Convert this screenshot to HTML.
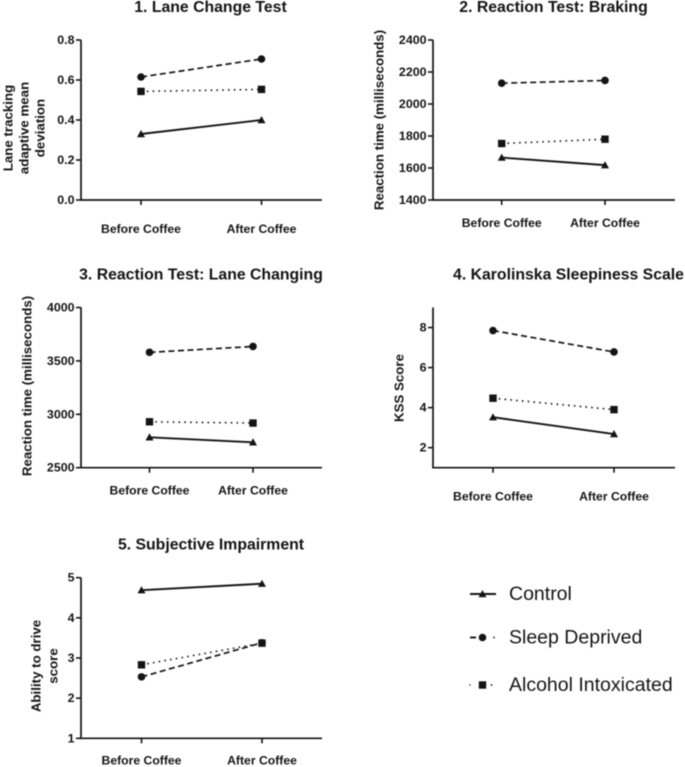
<!DOCTYPE html>
<html lang="en">
<head>
<meta charset="utf-8">
<title>Coffee study panels</title>
<style>
html,body{margin:0;padding:0;background:#fff;width:685px;height:767px;overflow:hidden}
svg{display:block;filter:blur(0.55px)}
text{font-family:"Liberation Sans",Arial,sans-serif;fill:#141414}
</style>
</head>
<body>
<svg id="chart" width="685" height="767" viewBox="0 0 685 767" xmlns="http://www.w3.org/2000/svg"></svg>
<script>
const categories = ['Before Coffee', 'After Coffee'];
const seriesNames = ['Control', 'Sleep Deprived', 'Alcohol Intoxicated'];

const laneControl = [0.33, 0.40];
const laneSleep = [0.615, 0.705];
const laneAlcohol = [0.543, 0.553];
const laneTicks = [0, 0.2, 0.4, 0.6, 0.8];
const laneTickLabels = ['0.0', '0.2', '0.4', '0.6', '0.8'];

const brakingControl = [1665, 1618];
const brakingSleep = [2130, 2147];
const brakingAlcohol = [1753, 1780];
const brakingTicks = [1400, 1600, 1800, 2000, 2200, 2400];
const brakingTickLabels = ['1400', '1600', '1800', '2000', '2200', '2400'];

const changingControl = [2785, 2738];
const changingSleep = [3580, 3635];
const changingAlcohol = [2930, 2918];
const changingTicks = [2500, 3000, 3500, 4000];
const changingTickLabels = ['2500', '3000', '3500', '4000'];

const kssControl = [3.52, 2.68];
const kssSleep = [7.85, 6.78];
const kssAlcohol = [4.47, 3.9];
const kssTicks = [2, 4, 6, 8];
const kssTickLabels = ['2', '4', '6', '8'];

const impairControl = [4.69, 4.85];
const impairSleep = [2.53, 3.38];
const impairAlcohol = [2.83, 3.37];
const impairTicks = [1, 2, 3, 4, 5];
const impairTickLabels = ['1', '2', '3', '4', '5'];

const NS = 'http://www.w3.org/2000/svg';
const root = document.getElementById('chart');
const INK = '#141414';

function make(parent, tag, attrs) {
  const el = document.createElementNS(NS, tag);
  for (const k in attrs) el.setAttribute(k, attrs[k]);
  parent.appendChild(el);
  return el;
}

function label(parent, str, x, y, size, weight, anchor, rotate) {
  const t = make(parent, 'text', {
    x: x, y: y, 'font-size': size, 'font-weight': weight,
    'text-anchor': anchor, 'dominant-baseline': 'central'
  });
  if (rotate) t.setAttribute('transform', 'rotate(-90 ' + x + ' ' + y + ')');
  t.textContent = str;
  return t;
}

function marker(parent, kind, x, y) {
  if (kind === 0) {
    return make(parent, 'polygon', {
      points: (x - 4) + ',' + (y + 3.2) + ' ' + (x + 4) + ',' + (y + 3.2) + ' ' + x + ',' + (y - 4),
      fill: INK
    });
  }
  if (kind === 1) {
    return make(parent, 'circle', { cx: x, cy: y, r: 3.8, fill: INK });
  }
  return make(parent, 'rect', { x: x - 3.7, y: y - 3.7, width: 7.4, height: 7.4, fill: INK });
}

const lineStyles = [
  { dash: 'none', width: 1.9 },
  { dash: '6 3.5', width: 1.7 },
  { dash: '1.6 4.2', width: 1.6 }
];

function drawPanel(p) {
  const g = make(root, 'g', {});
  
  

  const sy = v => p.bottom - (v - p.min) / (p.max - p.min) * (p.bottom - p.top);
  const sx = i => p.cx0 + i * (p.cx1 - p.cx0);

  const title = label(g, p.title, p.titleX, p.titleY, 15.8, 'bold', 'middle');
  
  

  p.yTitle.forEach(function (line, i) {
    const yt = label(g, line, p.yTitleX[i], p.yTitleY, 13.3, 'bold', 'middle', true);
    
    
  });

  const yAxis = make(g, 'line', { x1: p.left, x2: p.left, y1: p.top, y2: p.bottom + 0.8, stroke: INK, 'stroke-width': 1.7 });
  
  

  const xAxis = make(g, 'line', { x1: p.left, x2: p.right, y1: p.bottom, y2: p.bottom, stroke: INK, 'stroke-width': 1.7 });
  
  

  p.ticks.forEach(function (v, i) {
    const y = sy(v);
    const tick = make(g, 'line', { x1: p.left - 5, x2: p.left, y1: y, y2: y, stroke: INK, 'stroke-width': 1.6 });
    
    
    const tl = label(g, p.tickLabels[i], p.left - 6.5, y, 12.4, 'bold', 'end');
    
    
  });

  categories.forEach(function (c, i) {
    const x = sx(i);
    const tick = make(g, 'line', { x1: x, x2: x, y1: p.bottom, y2: p.bottom + 5, stroke: INK, 'stroke-width': 1.6 });
    
    
    const cl = label(g, c, x, p.catY, 12.2, 'bold', 'middle');
    
    
  });

  p.series.forEach(function (vals, s) {
    const sg = make(g, 'g', {});
    
    
    const st = lineStyles[s];
    const ln = make(sg, 'line', {
      x1: sx(0), y1: sy(vals[0]), x2: sx(1), y2: sy(vals[1]),
      stroke: INK, 'stroke-width': st.width
    });
    if (st.dash !== 'none') ln.setAttribute('stroke-dasharray', st.dash);
    vals.forEach(function (v, i) {
      marker(sg, s, sx(i), sy(v));
    });
  });
}

drawPanel({
  name: 'panel-lane-change-test', title: '1. Lane Change Test', titleX: 210.5, titleY: 7.5,
  yTitle: ['Lane tracking', 'adaptive mean', 'deviation'], yTitleX: [8, 24, 40], yTitleY: 128,
  left: 81, right: 322, top: 40, bottom: 200, cx0: 141, cx1: 261.5, catY: 229,
  min: 0, max: 0.8, ticks: laneTicks, tickLabels: laneTickLabels,
  series: [laneControl, laneSleep, laneAlcohol]
});
drawPanel({
  name: 'panel-reaction-test-braking', title: '2. Reaction Test: Braking', titleX: 553.5, titleY: 7.5,
  yTitle: ['Reaction time (milliseconds)'], yTitleX: [379], yTitleY: 120,
  left: 433, right: 675, top: 40, bottom: 200, cx0: 501.7, cx1: 605, catY: 223,
  min: 1400, max: 2400, ticks: brakingTicks, tickLabels: brakingTickLabels,
  series: [brakingControl, brakingSleep, brakingAlcohol]
});
drawPanel({
  name: 'panel-reaction-test-lane-changing', title: '3. Reaction Test: Lane Changing', titleX: 201, titleY: 275,
  yTitle: ['Reaction time (milliseconds)'], yTitleX: [27], yTitleY: 386,
  left: 81, right: 322, top: 307.5, bottom: 467.7, cx0: 149.5, cx1: 253, catY: 490.5,
  min: 2500, max: 4000, ticks: changingTicks, tickLabels: changingTickLabels,
  series: [changingControl, changingSleep, changingAlcohol]
});
drawPanel({
  name: 'panel-karolinska-sleepiness-scale', title: '4. Karolinska Sleepiness Scale', titleX: 568.5, titleY: 275,
  yTitle: ['KSS Score'], yTitleX: [399], yTitleY: 388,
  left: 433, right: 675, top: 307.5, bottom: 467.7, cx0: 493, cx1: 614, catY: 496.5,
  min: 1, max: 9, ticks: kssTicks, tickLabels: kssTickLabels,
  series: [kssControl, kssSleep, kssAlcohol]
});
drawPanel({
  name: 'panel-subjective-impairment', title: '5. Subjective Impairment', titleX: 211, titleY: 545,
  yTitle: ['Ability to drive', 'score'], yTitleX: [36, 53], yTitleY: 666,
  left: 81, right: 322, top: 577.7, bottom: 738.3, cx0: 141.5, cx1: 262, catY: 760.5,
  min: 1, max: 5, ticks: impairTicks, tickLabels: impairTickLabels,
  series: [impairControl, impairSleep, impairAlcohol]
});

const legend = make(root, 'g', {});



function legendEntry(idx, y) {
  const g = make(legend, 'g', {});
  
  
  if (idx === 0) {
    make(g, 'line', { x1: 470, x2: 496, y1: y, y2: y, stroke: INK, 'stroke-width': 1.9 });
  } else if (idx === 1) {
    make(g, 'line', { x1: 470, x2: 476, y1: y, y2: y, stroke: INK, 'stroke-width': 1.9 });
    make(g, 'circle', { cx: 494, cy: y, r: 0.9, fill: INK });
  } else {
    make(g, 'circle', { cx: 470, cy: y, r: 0.7, fill: INK });
    make(g, 'circle', { cx: 491.5, cy: y, r: 0.9, fill: INK });
  }
  marker(g, idx, 482.5, y);
  label(g, seriesNames[idx], 509, y, 19.5, 'normal', 'start');
}
legendEntry(0, 594);
legendEntry(1, 637.5);
legendEntry(2, 685);
</script>
</body>
</html>
